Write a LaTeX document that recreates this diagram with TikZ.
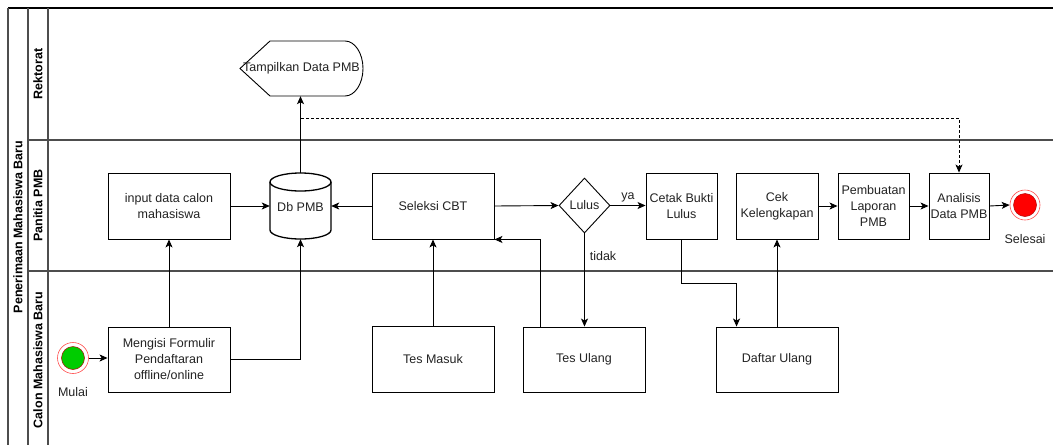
\documentclass[tikz,border=0pt]{standalone}
\usepackage{fontspec}
\setmainfont{Liberation Sans}
\usetikzlibrary{shapes.geometric,arrows.meta,calc}
\definecolor{txt}{HTML}{222222}
\definecolor{laneline}{HTML}{4D4D4D}
\definecolor{startgreen}{HTML}{00CC00}
\definecolor{endred}{HTML}{FF0000}
\definecolor{ringred}{HTML}{FF4D4D}
\definecolor{darkred}{HTML}{B20000}
\begin{document}
\begin{tikzpicture}[x=1pt,y=-1pt,
  font=\fontsize{12.5}{16}\selectfont, text=txt,
  task/.style={draw=black, line width=0.9pt, minimum height=66pt, inner sep=1pt, align=center, minimum width=#1},
  lane/.style={draw=laneline, line width=1.2pt},
  lanetitle/.style={rotate=90, font=\fontsize{12.5}{14}\selectfont\bfseries, text=black},
  flow/.style={draw=black, line width=0.9pt, -{Stealth[length=8pt,width=7pt,inset=2pt]}},
  lbl/.style={inner sep=1pt}
]
\useasboundingbox (0,0) rectangle (1053,445);

% pool and lanes
\draw[line width=1.3pt] (8,8) -- (1053,8);
\draw[lane] (8,8) -- (8,445);
\draw[lane] (28,8) -- (28,445);
\draw[lane] (48,8) -- (48,445);
\draw[lane] (28,140) -- (1053,140);
\draw[lane] (28,271) -- (1053,271);

\node[lanetitle] (pool) at (18,227) {Penerimaan Mahasiswa Baru};
\node[lanetitle] (l1) at (38,74) {Rektorat};
\node[lanetitle] (l2) at (38,205.5) {Panitia PMB};
\node[lanetitle] (l3) at (38,360) {Calon Mahasiswa Baru};

% Rektorat lane
\node[minimum width=123pt, minimum height=55pt, inner sep=0] (tampil) at (301.5,68.5) {};
\draw[line width=0.9pt] (240,68.5) -- (270,41) -- (345,41)
   arc[start angle=90, end angle=-90, x radius=18pt, y radius=27.5pt] -- (270,96) -- cycle;
\node at (tampil.center) {Tampilkan Data PMB};

% Panitia PMB lane
\node[task=122pt] (input) at (169,206) {input data calon\\mahasiswa};
\node[minimum width=61pt, minimum height=66pt, inner sep=0] (db) at (300.5,206) {};
\draw[line width=1.3pt] (270,182) -- (270,230)
   arc[start angle=180, end angle=360, x radius=30.5pt, y radius=9pt] -- (331,182);
\draw[line width=1.3pt] (300.5,182) ellipse[x radius=30.5pt, y radius=9pt];
\node at ($(db.center)+(0,1.5)$) {Db PMB};
\node[task=122pt] (seleksi) at (433,206) {Seleksi CBT};
\node[diamond, draw=black, line width=0.9pt, minimum width=51pt, minimum height=55pt, inner sep=0] (lulus) at (584.5,205.5) {Lulus};
\node[task=71pt] (cetak) at (681.5,206) {Cetak Bukti\\Lulus};
\node[task=82pt] (cek) at (777,206) {Cek\\Kelengkapan};
\node[task=71pt] (buat) at (873.5,206) {Pembuatan\\Laporan\\PMB};
\node[task=60pt] (analisis) at (959,206) {Analisis\\Data PMB};
\node[circle, draw=ringred, line width=0.6pt, minimum size=30pt, inner sep=0] (selesai) at (1025,205) {};
\node[circle, fill=endred, draw=darkred, line width=0.5pt, minimum size=23pt, inner sep=0] (selesaiin) at (selesai) {};
\node[lbl] (selesailbl) at (1025,239) {Selesai};

% Calon Mahasiswa lane
\node[circle, draw=ringred, line width=0.6pt, minimum size=31pt, inner sep=0] (mulai) at (73,358) {};
\node[circle, fill=startgreen, draw=darkred, line width=0.5pt, minimum size=23pt, inner sep=0] (mulaiin) at (mulai) {};
\node[lbl] (mulailbl) at (73,392) {Mulai};
\node[task=122pt, minimum height=65pt] (mengisi) at (169,359.5) {Mengisi Formulir\\Pendaftaran\\offline/online};
\node[task=122pt] (tesmasuk) at (433,359) {Tes Masuk};
\node[task=122pt, minimum height=65pt] (tesulang) at (584,359.5) {Tes Ulang};
\node[task=122pt, minimum height=65pt] (daftar) at (777,359.5) {Daftar Ulang};

% connectors
\draw[flow] (mulai.east) -- (mulai.east -| mengisi.west);
\draw[flow] (mengisi.north) -- (input.south);
\draw[flow] (mengisi.east) -| (db.south);
\draw[flow] (input.east) -- (db.west);
\draw[flow] (seleksi.west) -- (db.east);
\draw[flow] (db.north) -- (db.north |- tampil.south);
\coordinate (dj) at (301,118);
\draw[draw=black, line width=0.8pt, dashed, dash pattern=on 3pt off 2pt, -{Stealth[length=8pt,width=7pt,inset=2pt]}] (dj) -| (analisis.north);
\draw[flow] (seleksi.east) -- (lulus.west);
\draw[flow] (lulus.east) -- (cetak.west |- lulus.east) node[lbl, midway, above=2pt] (ya) {ya};
\draw[flow] (lulus.south) -- (lulus.south |- tesulang.north);
\node[lbl] (tidak) at (603,256) {tidak};
\draw[flow] (tesmasuk.north) -- (seleksi.south);
\draw[flow] ($(tesulang.north west)+(18,0)$) |- (seleksi.south east);
\draw[flow] (cetak.south) -- ++(0,44) -| ($(daftar.north west)+(21,0)$);
\draw[flow] (daftar.north) -- (cek.south);
\draw[flow] (cek.east) -- (buat.west);
\draw[flow] (buat.east) -- (analisis.west);
\draw[flow] (analisis.east) -- (selesai.west);
\end{tikzpicture}
\end{document}
